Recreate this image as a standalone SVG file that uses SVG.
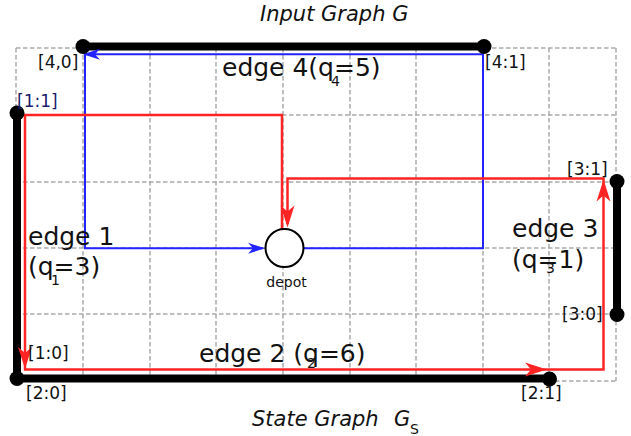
<svg xmlns="http://www.w3.org/2000/svg" width="631" height="436" viewBox="0 0 631 436">
<style>
text{font-family:"DejaVu Sans","Liberation Sans",sans-serif;fill:#111}
.title{font-size:21px;font-style:italic}
.lab{font-size:17px}
.navy{fill:#1c1c6e}
.edge{font-size:25px}
.sub{font-size:14px}
.small{font-size:14px}
.grid{stroke:#aaaaaa;stroke-width:1.5;stroke-dasharray:4.5 2.5;fill:none}
.blk{stroke:#000;stroke-width:8;fill:none}
.red{stroke:#ff2424;stroke-width:2.5;fill:none;stroke-linejoin:miter}
.blue{stroke:#2323ff;stroke-width:2;fill:none}
.dot{fill:#000}
</style>
<defs>
<path id="ahr" d="M0,0 L-22,-7 L-16,0 L-22,7 Z" fill="#ff2424"/>
<path id="ahb" d="M0,0 L-17,-5.5 L-12,0 L-17,5.5 Z" fill="#2323ff"/>
</defs>
<rect width="631" height="436" fill="#fff"/>
<g id="grid" class="grid">
<path d="M16,48H616M16,115H616M16,182H616M16,248H616M16,314H616M16,381H616"/>
<path d="M16,48V381M83,48V381M150,48V381M216,48V381M283,48V381M350,48V381M416,48V381M483,48V381M549,48V381M616,48V381"/>
</g>
<g id="connectors">
<path class="blk" d="M83,46.5H484"/>
<path class="blk" d="M17,113V378"/>
<path class="blk" d="M17,378.5H549.5"/>
<path class="blk" d="M617,181.5V314.5"/>
<path class="blue" d="M304,248.3H483V54.3H85V248.3H263"/>
<use href="#ahb" transform="translate(83,54.3) rotate(180)"/>
<use href="#ahb" transform="translate(265,248.3)"/>
<path class="red" d="M282,229V115H25V369.5H603.5V178.5H287.5V224"/>
<use href="#ahr" transform="translate(25,369) rotate(90)"/>
<use href="#ahr" transform="translate(547,369.5)"/>
<use href="#ahr" transform="translate(603.5,179.5) rotate(-90)"/>
<use href="#ahr" transform="translate(287.5,227.5) rotate(90)"/>
<text class="edge" x="222" y="76">edge 4(q=5)</text>
<text class="sub" x="331" y="86">4</text>
<text class="edge" x="28" y="245">edge 1</text>
<text class="edge" x="28" y="275">(q=3)</text>
<text class="sub" x="51" y="285">1</text>
<text class="edge" x="512" y="237">edge 3</text>
<text class="edge" x="512" y="268">(q=1)</text>
<text class="sub" x="546" y="273">3</text>
<text class="edge" x="199" y="362">edge 2 (q=6)</text>
<text class="sub" x="307" y="368">2</text>
</g>
<g id="node-4-0"><circle class="dot" cx="83" cy="46.5" r="7.5"/><text class="lab" x="38" y="68">[4,0]</text></g>
<g id="node-4-1"><circle class="dot" cx="484" cy="46.5" r="7.5"/><text class="lab" x="485" y="68">[4:1]</text></g>
<g id="node-1-1"><circle class="dot" cx="17" cy="113" r="7.5"/><text class="lab navy" x="17" y="107">[1:1]</text></g>
<g id="node-1-0-2-0"><circle class="dot" cx="17" cy="378.5" r="7.5"/><text class="lab" x="28" y="359">[1:0]</text><text class="lab" x="26" y="399">[2:0]</text></g>
<g id="node-2-1"><circle class="dot" cx="549.5" cy="379" r="7.5"/><text class="lab" x="521" y="399">[2:1]</text></g>
<g id="node-3-1"><circle class="dot" cx="617" cy="181.5" r="7.5"/><text class="lab" x="567" y="175">[3:1]</text></g>
<g id="node-3-0"><circle class="dot" cx="617" cy="314.5" r="7.5"/><text class="lab" x="562" y="320">[3:0]</text></g>
<g id="depot"><circle cx="284.5" cy="248" r="19" fill="#fff" stroke="#000" stroke-width="2"/><text class="small" x="286.5" y="287" text-anchor="middle">depot</text></g>
<g id="titles">
<text class="title" x="260" y="21">Input Graph G</text>
<text class="title" x="252" y="426">State Graph</text>
<text class="title" x="394" y="426">G</text>
<text class="sub" x="410" y="434">S</text>
</g>
</svg>
